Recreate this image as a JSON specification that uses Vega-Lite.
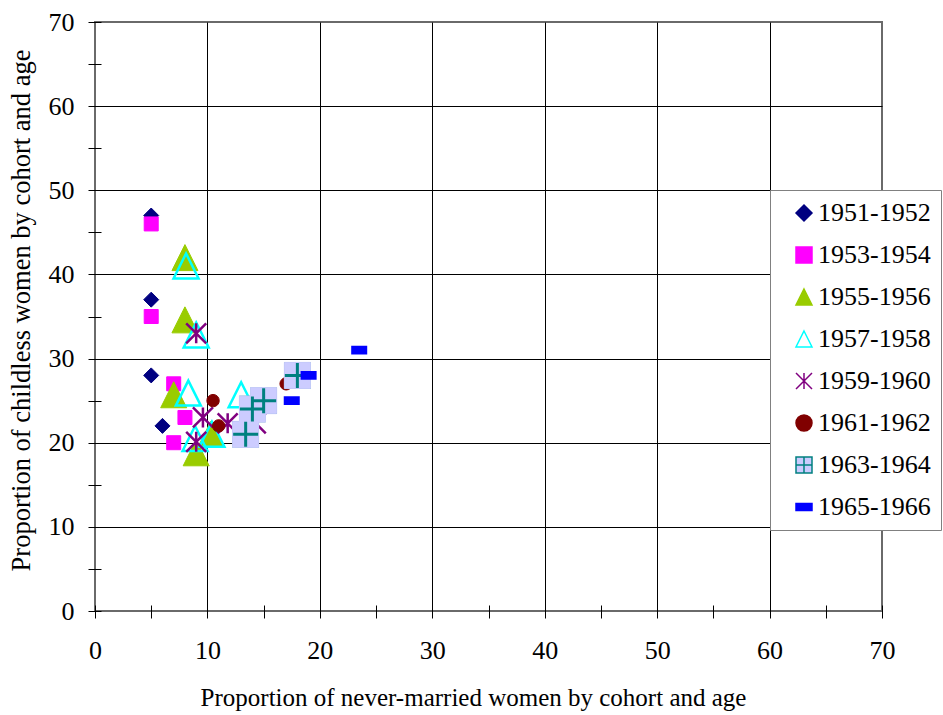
{
  "$schema": "https://vega.github.io/schema/vega-lite/v6.json",
  "autosize": {"type": "none"},
  "padding": {"left": 95, "top": 22, "right": 61, "bottom": 104},
  "width": 787,
  "height": 589,
  "background": "white",
  "config": {
    "font": "Liberation Serif",
    "view": {"stroke": "#6a6a6a", "strokeWidth": 2},
    "axis": {
      "labelFont": "Liberation Serif",
      "titleFont": "Liberation Serif",
      "labelFontSize": 26,
      "titleFontSize": 25,
      "titleFontWeight": "normal",
      "titleLimit": 1000,
      "labelColor": "black",
      "titleColor": "black",
      "domain": false,
      "tickColor": "black",
      "tickWidth": 1,
      "gridColor": "black",
      "gridWidth": 1
    },
    "legend": {
      "labelFont": "Liberation Serif",
      "labelFontSize": 26,
      "labelColor": "black",
      "labelLimit": 400,
      "symbolSize": 256,
      "symbolStrokeWidth": 1.5,
      "orient": "none",
      "legendX": 675,
      "legendY": 168,
      "fillColor": "white",
      "strokeColor": "#808080",
      "padding": 10,
      "symbolOffset": 11,
      "labelOffset": 1,
      "clipHeight": 26,
      "rowPadding": 16,
      "title": null
    }
  },
  "data": {
    "values": [
      {"series": "1951-1952", "x": 5, "y": 47},
      {"series": "1951-1952", "x": 5, "y": 37},
      {"series": "1951-1952", "x": 5, "y": 28},
      {"series": "1951-1952", "x": 6, "y": 22},
      {"series": "1953-1954", "x": 5, "y": 46},
      {"series": "1953-1954", "x": 5, "y": 35},
      {"series": "1953-1954", "x": 7, "y": 27},
      {"series": "1953-1954", "x": 8, "y": 23},
      {"series": "1953-1954", "x": 7, "y": 20},
      {"series": "1955-1956", "x": 8, "y": 42},
      {"series": "1955-1956", "x": 8, "y": 34.6},
      {"series": "1955-1956", "x": 7, "y": 25.7},
      {"series": "1955-1956", "x": 10.3, "y": 21},
      {"series": "1955-1956", "x": 9, "y": 18.8},
      {"series": "1957-1958", "x": 8.1, "y": 41},
      {"series": "1957-1958", "x": 9, "y": 32.8},
      {"series": "1957-1958", "x": 8.3, "y": 25.9},
      {"series": "1957-1958", "x": 13, "y": 25.7},
      {"series": "1957-1958", "x": 8.9, "y": 20.5},
      {"series": "1957-1958", "x": 10.4, "y": 21},
      {"series": "1959-1960", "x": 9, "y": 33},
      {"series": "1959-1960", "x": 9.6, "y": 23},
      {"series": "1959-1960", "x": 11.8, "y": 22.3},
      {"series": "1959-1960", "x": 9, "y": 20.1},
      {"series": "1959-1960", "x": 14.3, "y": 22.3},
      {"series": "1961-1962", "x": 10.5, "y": 25},
      {"series": "1961-1962", "x": 11, "y": 22},
      {"series": "1961-1962", "x": 17, "y": 27},
      {"series": "1963-1964", "x": 18, "y": 28},
      {"series": "1963-1964", "x": 15, "y": 25},
      {"series": "1963-1964", "x": 14, "y": 24},
      {"series": "1963-1964", "x": 13.4, "y": 21},
      {"series": "1965-1966", "x": 23.5, "y": 31},
      {"series": "1965-1966", "x": 19, "y": 28},
      {"series": "1965-1966", "x": 17.5, "y": 25}
    ]
  },
  "encoding": {
    "x": {
      "field": "x", "type": "quantitative",
      "scale": {"domain": [0, 70], "nice": false, "zero": false},
      "axis": {
        "title": "Proportion of never-married women by cohort and age",
        "values": [0, 5, 10, 15, 20, 25, 30, 35, 40, 45, 50, 55, 60, 65, 70],
        "labelExpr": "datum.value % 10 === 0 ? datum.label : ''",
        "offset": -6,
        "tickSize": 13,
        "labelPadding": 19,
        "titlePadding": 22,
        "titleX": 378,
        "labelFlush": false,
        "gridOpacity": {"condition": {"test": "datum.value % 10 !== 0 || datum.value === 70 || datum.value === 0", "value": 0}, "value": 1}
      }
    },
    "y": {
      "field": "y", "type": "quantitative",
      "scale": {"domain": [0, 70], "nice": false, "zero": false},
      "axis": {
        "title": "Proportion of childless women by cohort and age",
        "values": [0, 5, 10, 15, 20, 25, 30, 35, 40, 45, 50, 55, 60, 65, 70],
        "labelExpr": "datum.value % 10 === 0 ? datum.label : ''",
        "offset": -6,
        "tickSize": 13,
        "labelPadding": 14,
        "titlePadding": 13,
        "titleFontSize": 26.5,
        "titleY": 288,
        "titleLimit": 2000,
        "labelFlush": false,
        "gridOpacity": {"condition": {"test": "datum.value % 10 !== 0 || datum.value === 70 || datum.value === 0", "value": 0}, "value": 1}
      }
    }
  },
  "layer": [
    {
      "transform": [{"filter": "datum.series !== '1965-1966'"}],
      "mark": {"type": "point", "filled": true, "opacity": 1},
      "encoding": {
        "shape": {
          "field": "series", "type": "nominal",
          "scale": {
            "domain": ["1951-1952", "1953-1954", "1955-1956", "1957-1958", "1959-1960", "1961-1962", "1963-1964", "1965-1966"],
            "range": ["diamond", "square", "M0,-1L1,1L-1,1Z", "M0,-1L1,1L-1,1Z", "M-1,-1L1,1M-1,1L1,-1M0,-1L0,1", "circle", "M-1,-1L1,-1L1,1L-1,1ZM0,-1L0,1M-1,0L1,0", "M-1,-0.45L1,-0.45L1,0.45L-1,0.45Z"]
          }
        },
        "fill": {
          "field": "series", "type": "nominal",
          "scale": {
            "domain": ["1951-1952", "1953-1954", "1955-1956", "1957-1958", "1959-1960", "1961-1962", "1963-1964", "1965-1966"],
            "range": ["#000080", "#FF00FF", "#99CC00", "transparent", "transparent", "#800000", "#CCCCFF", "#0000FF"]
          }
        },
        "stroke": {
          "field": "series", "type": "nominal",
          "scale": {
            "domain": ["1951-1952", "1953-1954", "1955-1956", "1957-1958", "1959-1960", "1961-1962", "1963-1964", "1965-1966"],
            "range": ["#000080", "#FF00FF", "#99CC00", "#00FFFF", "#800080", "#800000", "#008080", "#0000FF"]
          }
        },
        "size": {
          "field": "series", "type": "nominal",
          "scale": {
            "type": "ordinal",
            "domain": ["1951-1952", "1953-1954", "1955-1956", "1957-1958", "1959-1960", "1961-1962", "1963-1964", "1965-1966"],
            "range": [225, 196, 676, 625, 400, 154, 625, 225]
          },
          "legend": null
        },
        "strokeWidth": {
          "field": "series", "type": "nominal",
          "scale": {
            "type": "ordinal",
            "domain": ["1951-1952", "1953-1954", "1955-1956", "1957-1958", "1959-1960", "1961-1962", "1963-1964", "1965-1966"],
            "range": [1, 1, 1, 2.5, 2.5, 1, 1.5, 0.5]
          },
          "legend": null
        }
      }
    },
    {
      "transform": [{"filter": "datum.series === '1963-1964'"}],
      "mark": {"type": "point", "shape": "square", "filled": true, "fill": "#CCCCFF", "stroke": "#CCCCFF", "strokeWidth": 1, "size": 676, "opacity": 1},
      "encoding": {}
    },
    {
      "transform": [{"filter": "datum.series === '1963-1964'"}],
      "mark": {"type": "point", "shape": "M-1,0L1,0M0,-1L0,1", "filled": false, "stroke": "#008080", "strokeWidth": 3, "size": 625, "opacity": 1},
      "encoding": {}
    },
    {
      "transform": [{"filter": "datum.series === '1965-1966'"}],
      "mark": {"type": "point", "filled": true, "opacity": 1},
      "encoding": {
        "shape": {"field": "series", "type": "nominal"},
        "fill": {"field": "series", "type": "nominal"},
        "stroke": {"field": "series", "type": "nominal"},
        "size": {"field": "series", "type": "nominal", "legend": null},
        "strokeWidth": {"field": "series", "type": "nominal", "legend": null}
      }
    }
  ]
}
